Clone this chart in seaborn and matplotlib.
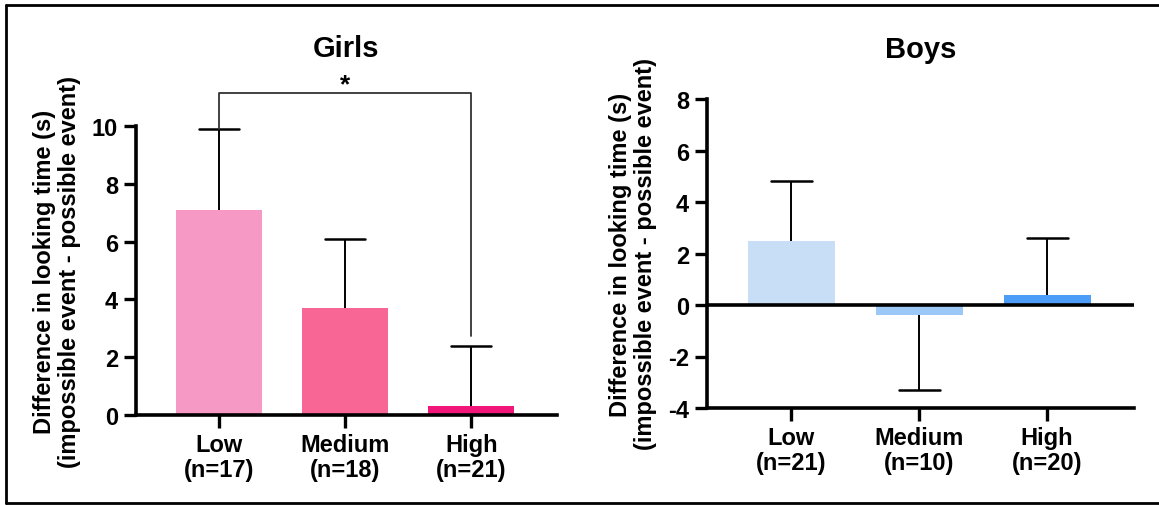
import matplotlib
matplotlib.use("Agg")
import matplotlib.pyplot as plt
import seaborn as sns
import pandas as pd
from matplotlib.lines import Line2D

sns.set_style("white")
plt.rcParams['font.family'] = ['Liberation Sans', 'DejaVu Sans']
plt.rcParams['font.weight'] = 'bold'
for k in ['text.color', 'axes.labelcolor', 'xtick.color', 'ytick.color']:
    plt.rcParams[k] = 'black'

groups = ["Low", "Medium", "High"]
girls_n = [17, 18, 21]
boys_n = [21, 10, 20]
girls_mean = [7.1, 3.7, 0.3]
girls_sd = [2.8, 2.4, 2.1]
boys_mean = [2.5, -0.4, 0.4]
boys_sd = [2.3, 2.9, 2.2]
girls_colors = ["#F799C5", "#F76694", "#F0167A"]
boys_colors = ["#C8DEF7", "#9CC8F8", "#4D9CF8"]
girls_yticks = [0, 2, 4, 6, 8, 10]
boys_yticks = [-4, -2, 0, 2, 4, 6, 8]
ylabel = "Difference in looking time (s)\n(impossible event - possible event)"

W, H = 1159, 506
fig = plt.figure(figsize=(W / 100, H / 100), dpi=100)

def px_axes(left, right, top, bottom):
    return fig.add_axes([left / W, 1 - bottom / H, (right - left) / W, (bottom - top) / H])

ax1 = px_axes(136, 557, 127, 416)
ax2 = px_axes(707, 1134, 100, 409)

FS = 17

def draw(ax, means, sds, ns, colors, title, yticks, ylim, title_y):
    df = pd.DataFrame({"group": groups, "mean": means})
    sns.barplot(data=df, x="group", y="mean", hue="group", palette=colors,
                order=groups, hue_order=groups, width=0.68, legend=False,
                errorbar=None, ax=ax, zorder=2, linewidth=0, saturation=1)
    for i, (m, s) in enumerate(zip(means, sds)):
        end = m + s if m >= 0 else m - s
        ax.plot([i, i], [m, end], color="black", lw=1.4, zorder=1, solid_capstyle="butt")
        ax.plot([i - 0.16, i + 0.16], [end, end], color="black", lw=1.8, zorder=1)
    ax.set_xlim(-0.66, 2.68)
    ax.set_ylim(*ylim)
    ax.set_yticks(yticks)
    ax.set_yticklabels([str(t) for t in yticks], fontsize=FS, fontweight="bold")
    ax.set_xticks(range(3))
    ax.set_xticklabels([f"{g}\n(n={n})" for g, n in zip(groups, ns)],
                       fontsize=FS, fontweight="bold", linespacing=1.1)
    ax.set_xlabel("")
    ax.set_ylabel(ylabel, fontsize=FS, fontweight="bold", labelpad=8, linespacing=1.1)
    ax.set_title(title, fontsize=21, fontweight="bold", y=title_y, va="center")
    for sp in ["top", "right"]:
        ax.spines[sp].set_visible(False)
    for sp in ["left", "bottom"]:
        ax.spines[sp].set_linewidth(2.6)
        ax.spines[sp].set_color("black")
    ax.tick_params(axis="both", which="major", direction="out", length=9, width=2.4,
                   color="black", bottom=True, left=True, pad=4)
    ax.set_facecolor("white")

draw(ax1, girls_mean, girls_sd, girls_n, girls_colors, "Girls", girls_yticks, (0, 10), 1.242)
draw(ax2, boys_mean, boys_sd, boys_n, boys_colors, "Boys", boys_yticks, (-4, 8), 1.136)
ax2.axhline(0, color="black", lw=2.6, zorder=3)

# significance bracket between Low and High (girls)
yb = 11.15
ax1.plot([0, 0, 2, 2], [girls_mean[0] + girls_sd[0], yb, yb, girls_mean[2] + girls_sd[2] + 0.33],
         color="#333333", lw=1.3, clip_on=False, zorder=1)
ax1.text(1, yb - 0.14, "*", ha="center", va="bottom", fontsize=FS + 2, fontweight="bold")

# partial frame around figure (top, left, bottom)
fig.add_artist(Line2D([6 / W, 6 / W], [1 - 6 / H, 1 - 504 / H], color="black", lw=2, transform=fig.transFigure))
fig.add_artist(Line2D([6 / W, 1], [1 - 6 / H, 1 - 6 / H], color="black", lw=2, transform=fig.transFigure))
fig.add_artist(Line2D([6 / W, 1], [1 - 504 / H, 1 - 504 / H], color="black", lw=2, transform=fig.transFigure))

fig.savefig("out.png", dpi=100, facecolor="white")
